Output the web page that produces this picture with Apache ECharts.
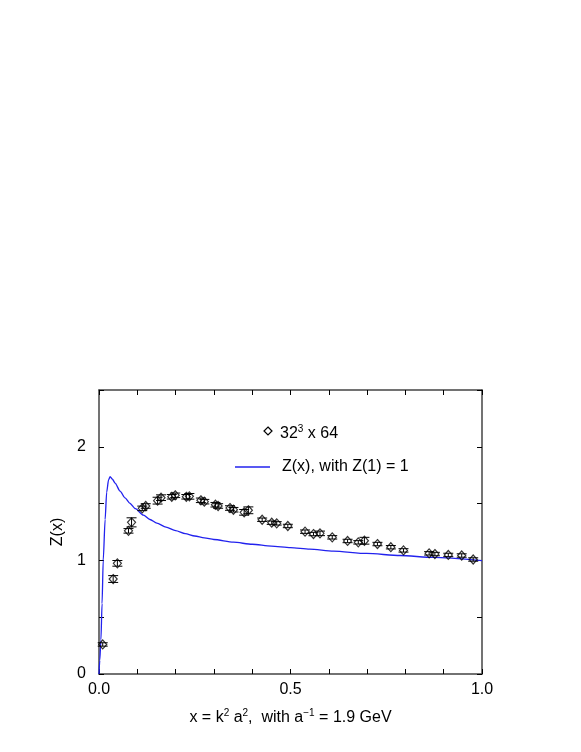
<!DOCTYPE html>
<html>
<head>
<meta charset="utf-8">
<script src="https://cdn.jsdelivr.net/npm/echarts@6/dist/echarts.min.js"></script>
<style>
  html, body { margin: 0; padding: 0; background: #fff; }
  #chart { width: 581px; height: 752px; }
</style>
</head>
<body>
<div id="chart"></div>
<script>
  // lattice points: x = k^2 a^2, Z and error
  var latX = [0.0097, 0.037, 0.048, 0.077, 0.085, 0.113, 0.122, 0.153, 0.162, 0.19,
    0.199, 0.228, 0.236, 0.266, 0.275, 0.304, 0.311, 0.342, 0.351, 0.379,
    0.39, 0.426, 0.451, 0.464, 0.493, 0.538, 0.56, 0.577, 0.609, 0.649,
    0.677, 0.693, 0.727, 0.762, 0.795, 0.862, 0.877, 0.912, 0.947, 0.977]
  var latZ = [0.26, 0.836, 0.974, 1.26, 1.335, 1.458, 1.479, 1.526, 1.552, 1.56,
    1.573, 1.56, 1.564, 1.529, 1.517, 1.49, 1.479, 1.461, 1.446, 1.423,
    1.441, 1.358, 1.332, 1.326, 1.303, 1.253, 1.232, 1.238, 1.203, 1.171,
    1.159, 1.173, 1.144, 1.116, 1.088, 1.062, 1.056, 1.048, 1.043, 1.008]
  var latErr = [0.015, 0.03, 0.025, 0.02, 0.04, 0.02, 0.02, 0.03, 0.025, 0.02,
    0.02, 0.02, 0.025, 0.02, 0.02, 0.02, 0.02, 0.02, 0.02, 0.025,
    0.03, 0.015, 0.015, 0.015, 0.015, 0.015, 0.015, 0.02, 0.015, 0.015,
    0.015, 0.03, 0.015, 0.015, 0.015, 0.015, 0.015, 0.015, 0.015, 0.015]

  // Z(x) curve
  var curveX = [0, 0.002, 0.005, 0.008, 0.011, 0.016, 0.02, 0.025, 0.029, 0.035,
    0.042, 0.055, 0.068, 0.08, 0.095, 0.116, 0.133, 0.151, 0.175, 0.2,
    0.225, 0.25, 0.275, 0.3, 0.351, 0.4, 0.45, 0.5, 0.55, 0.612,
    0.699, 0.786, 0.873, 1.0]
  var curveZ = [0, 0.12, 0.3, 0.62, 1.0, 1.36, 1.6, 1.71, 1.737, 1.715,
    1.68, 1.61, 1.55, 1.505, 1.455, 1.398, 1.36, 1.328, 1.293, 1.262,
    1.236, 1.215, 1.198, 1.184, 1.16, 1.142, 1.126, 1.112, 1.1, 1.082,
    1.061, 1.043, 1.026, 0.998]

  var xTicks = ['0.0', '0.5', '1.0']
  var yTicks = ['0', '1', '2']

  var FONT = 'Liberation Sans, Arial, Helvetica, sans-serif'
  var AXIS = '#444'

  var points = latX.map(function (x, i) { return [x, latZ[i]] })
  var bars = latX.map(function (x, i) { return [x, latZ[i] - latErr[i], latZ[i] + latErr[i]] })
  var curve = curveX.map(function (x, i) { return [x, curveZ[i]] })

  var chart = echarts.init(document.getElementById('chart'), null, { renderer: 'canvas' })

  var baseX = {
    type: 'value', min: 0, max: 1, interval: 0.1,
    axisLine: { onZero: false, lineStyle: { color: AXIS, width: 1.5 } },
    axisTick: { inside: true, length: 5, lineStyle: { color: '#000' } },
    splitLine: { show: false }
  }
  var baseY = {
    type: 'value', min: 0, max: 2.5, interval: 0.5,
    axisLine: { onZero: false, lineStyle: { color: AXIS, width: 1.5 } },
    axisTick: { inside: true, length: 5, lineStyle: { color: '#000' } },
    splitLine: { show: false }
  }

  chart.setOption({
    animation: false,
    grid: { left: 99, right: 99, top: 390, bottom: 78 },
    xAxis: [
      Object.assign({}, baseX, {
        position: 'bottom',
        axisLabel: {
          color: '#000', fontSize: 16, fontFamily: FONT, margin: 8,
          formatter: function (v) {
            var s = v.toFixed(1)
            return xTicks.indexOf(s) >= 0 ? s : ''
          }
        },
        name: 'x = k{s|2} a{s|2},  with a{s|\u22121} = 1.9 GeV',
        nameLocation: 'middle', nameGap: 34,
        nameTextStyle: {
          color: '#000', fontSize: 16, fontFamily: FONT,
          rich: { s: { fontSize: 10, fontFamily: FONT, color: '#000', padding: [0, 0, 9, 0] } }
        }
      }),
      Object.assign({}, baseX, { position: 'top', axisLabel: { show: false } })
    ],
    yAxis: [
      Object.assign({}, baseY, {
        position: 'left',
        axisLabel: {
          color: '#000', fontSize: 16, fontFamily: FONT, margin: 13,
          formatter: function (v) {
            var s = String(v)
            return yTicks.indexOf(s) >= 0 ? s : ''
          }
        },
        name: 'Z(x)', nameLocation: 'middle', nameGap: 33,
        nameTextStyle: { color: '#000', fontSize: 16, fontFamily: FONT }
      }),
      Object.assign({}, baseY, { position: 'right', axisLabel: { show: false } })
    ],
    series: [
      {
        name: 'Z(x), with Z(1) = 1',
        type: 'line',
        data: curve,
        smooth: 0.25,
        smoothMonotone: 'x',
        symbol: 'none',
        lineStyle: { color: '#2222ee', width: 1.3 },
        z: 2
      },
      {
        name: 'errors',
        type: 'custom',
        data: bars,
        renderItem: function (params, api) {
          var top = api.coord([api.value(0), api.value(2)])
          var bot = api.coord([api.value(0), api.value(1)])
          var w = 5
          var st = { stroke: '#000', lineWidth: 1 }
          return {
            type: 'group',
            children: [
              { type: 'line', shape: { x1: top[0], y1: top[1], x2: bot[0], y2: bot[1] }, style: st },
              { type: 'line', shape: { x1: top[0] - w, y1: top[1], x2: top[0] + w, y2: top[1] }, style: st },
              { type: 'line', shape: { x1: bot[0] - w, y1: bot[1], x2: bot[0] + w, y2: bot[1] }, style: st }
            ]
          }
        },
        z: 3
      },
      {
        name: '32^3 x 64',
        type: 'scatter',
        data: points,
        symbol: 'diamond',
        symbolSize: [8, 9],
        itemStyle: { color: 'rgba(255,255,255,0)', borderColor: '#000', borderWidth: 1.2 },
        z: 4
      }
    ],
    graphic: [
      {
        type: 'polygon',
        shape: { points: [[268, 427], [272, 431], [268, 435], [264, 431]] },
        style: { fill: 'none', stroke: '#000', lineWidth: 1.2 }
      },
      {
        type: 'text', left: 280, top: 424,
        style: {
          text: '32{s|3} x 64', fill: '#000', fontSize: 16, fontFamily: FONT,
          rich: { s: { fontSize: 10, fontFamily: FONT, fill: '#000', padding: [0, 0, 9, 0] } }
        }
      },
      {
        type: 'line',
        shape: { x1: 235, y1: 467, x2: 270, y2: 467 },
        style: { stroke: '#2222ee', lineWidth: 1.3 }
      },
      {
        type: 'text', left: 282, top: 459,
        style: { text: 'Z(x), with Z(1) = 1', fill: '#000', fontSize: 16, fontFamily: FONT }
      }
    ]
  })
</script>
</body>
</html>
